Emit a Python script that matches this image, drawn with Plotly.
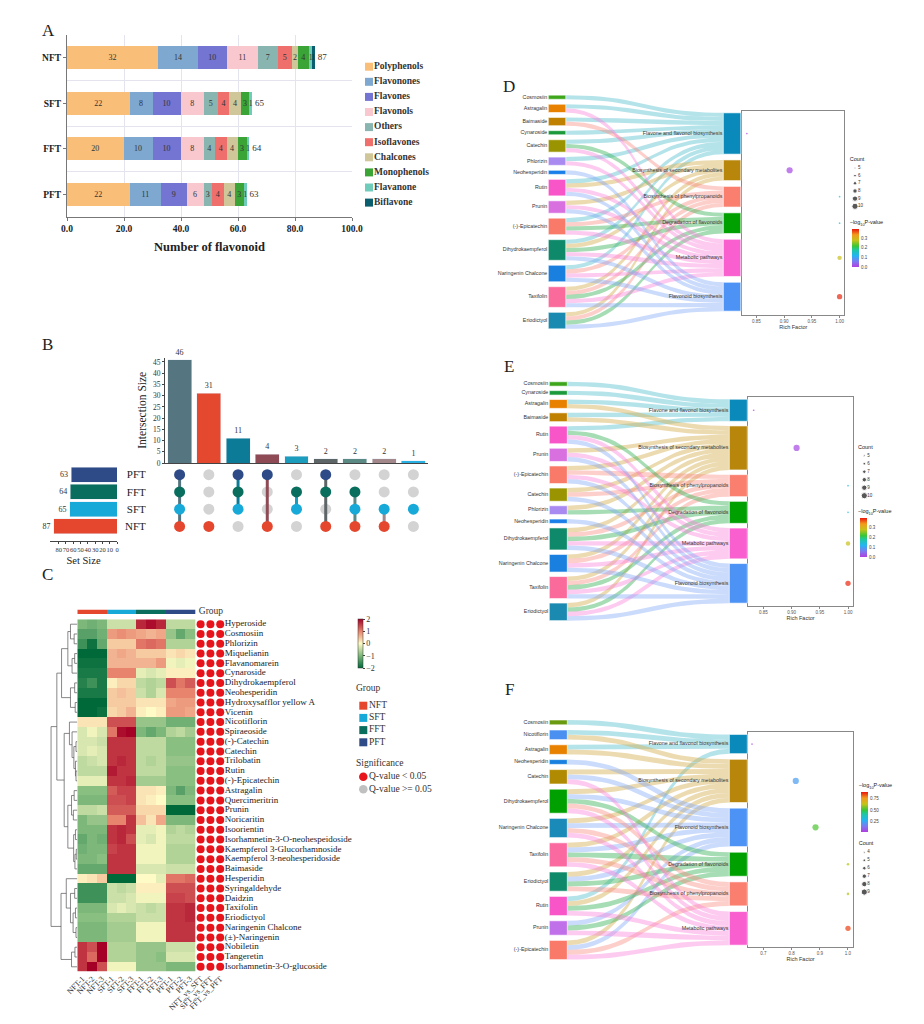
import plotly.graph_objects as go

W, H = 924, 1024
OFF = 8  # page body margin
FW, FH = W - 2 * OFF, H - 2 * OFF
SERIF = "Liberation Serif"
SANS = "Liberation Sans"

# ---------------- A: flavonoid classes per group ----------------
A_GROUPS = ["NFT", "SFT", "FFT", "PFT"]
A_CLASSES = ["Polyphenols", "Flavonones", "Flavones", "Flavonols", "Others",
             "Isoflavones", "Chalcones", "Monophenols", "Flavanone", "Biflavone"]
A_COLORS = ["#F9BE78", "#7EA8CF", "#7474D2", "#F8C8CE", "#89B5B1",
            "#EE6F6B", "#CFC69A", "#3AA437", "#70CCBA", "#0B5E6D"]
A_NFT = [32, 14, 10, 11, 7, 5, 2, 4, 1, 1]
A_SFT = [22, 8, 10, 8, 5, 4, 4, 3, 1, 0]
A_FFT = [20, 10, 10, 8, 4, 4, 4, 3, 1, 0]
A_PFT = [22, 11, 9, 6, 3, 4, 4, 3, 1, 0]

# ---------------- B: upset ----------------
SETS = ["NFT", "SFT", "FFT", "PFT"]
SET_SIZE = [87, 65, 64, 63]
SET_COLORS = ["#E4472E", "#17A9D8", "#0A6E5E", "#2E4A87"]
INTERSECTIONS = [["NFT", "SFT", "FFT", "PFT"], ["NFT"], ["SFT", "FFT", "PFT"],
                 ["NFT", "PFT"], ["SFT", "FFT"], ["NFT", "FFT", "PFT"],
                 ["NFT", "SFT", "FFT"], ["NFT", "SFT"], ["SFT"]]
INTER_SIZE = [46, 31, 11, 4, 3, 2, 2, 2, 1]
INTER_COLORS = ["#557680", "#E4482F", "#0B7B97", "#8E4A55", "#1C9DBE",
                "#5D6566", "#5B8A85", "#A2888A", "#29B0E2"]

# ---------------- C: heatmap ----------------
SAMPLES = ["NFT-1", "NFT-2", "NFT-3", "SFT-1", "SFT-2", "SFT-3",
           "FFT-1", "FFT-2", "FFT-3", "PFT-1", "PFT-2", "PFT-3"]
SAMPLE_GROUP = [0, 0, 0, 1, 1, 1, 2, 2, 2, 3, 3, 3]
COMPARISONS = ["NFT_vs_SFT", "SFT_vs_FFT", "FFT_vs_PFT"]
METABOLITES = ["Hyperoside", "Cosmosiin", "Phlorizin", "Miquelianin", "Flavanomarein",
               "Cynaroside", "Dihydrokaempferol", "Neohesperidin", "Hydroxysafflor yellow A",
               "Vicenin", "Nicotiflorin", "Spiraeoside", "(-)-Catechin", "Catechin",
               "Trilobatin", "Rutin", "(-)-Epicatechin", "Astragalin", "Quercimeritrin",
               "Prunin", "Noricaritin", "Isoorientin", "Isorhamnetin-3-O-neohespeidoside",
               "Kaempferol 3-Glucorhamnoside", "Kaempferol 3-neohesperidoside", "Baimaside",
               "Hesperidin", "Syringaldehyde", "Daidzin", "Taxifolin", "Eriodictyol",
               "Naringenin Chalcone", "(±)-Naringenin", "Nobiletin", "Tangeretin",
               "Isorhamnetin-3-O-glucoside"]
HEAT_Z = [
    [-1.0, -1.1, -1.0, -0.4, -0.4, -0.4, 1.7, 1.9, 1.7, -0.5, -0.5, -0.5],
    [-1.3, -1.3, -1.1, 0.8, 0.9, 0.8, 0.7, 0.6, 0.7, -0.8, -1.2, -0.9],
    [-1.5, -1.9, -1.2, 0.4, 0.4, 0.4, 1.1, 1.2, 1.1, -0.6, -0.6, -0.6],
    [-2.0, -2.0, -2.0, 0.6, 0.7, 0.6, 0.4, 0.4, 0.4, 0.2, 0.3, 0.2],
    [-1.9, -1.9, -1.9, 0.6, 0.6, 0.6, 0.6, 0.6, 0.8, -0.1, -0.2, -0.1],
    [-1.8, -1.8, -1.8, 1.0, 1.0, 1.0, -0.2, -0.3, -0.2, 0.1, 0.1, 0.1],
    [-1.7, -1.5, -1.8, 0.1, 0.3, 0.3, -0.5, -0.6, -0.5, 1.4, 1.1, 1.3],
    [-1.8, -1.8, -1.8, 0.4, 0.5, 0.4, -0.4, -0.6, -0.3, 1.0, 1.0, 1.0],
    [-2.1, -2.1, -2.1, 0.4, 0.4, 0.4, 0.2, 0.2, 0.2, 0.7, 0.8, 0.8],
    [-2.0, -2.0, -1.9, 0.3, 0.4, 0.6, 0.1, 0.0, 0.1, 0.8, 0.8, 0.7],
    [0.2, 0.2, 0.2, 1.4, 1.4, 1.4, -0.8, -0.8, -0.8, -1.1, -1.1, -1.1],
    [-0.3, -0.1, -0.3, 1.1, 1.9, 2.0, -1.0, -1.2, -1.0, -0.6, -0.5, -0.7],
    [-0.3, -0.3, -0.4, 1.6, 1.6, 1.6, -0.5, -0.5, -0.5, -0.9, -0.9, -0.9],
    [-0.3, -0.2, -0.3, 1.6, 1.6, 1.6, -0.5, -0.5, -0.5, -0.9, -0.9, -0.9],
    [-0.5, -0.4, -0.3, 1.6, 1.7, 1.6, -0.5, -0.6, -0.5, -0.8, -0.8, -0.8],
    [-0.5, -0.5, -0.5, 1.8, 1.6, 1.6, -0.5, -0.5, -0.5, -0.9, -0.9, -0.9],
    [-0.2, -0.2, -0.2, 1.6, 1.6, 1.7, -0.7, -0.7, -0.7, -0.9, -0.9, -0.9],
    [-0.9, -0.9, -0.9, 1.3, 1.5, 1.5, 0.2, 0.2, 0.1, -1.0, -1.3, -1.0],
    [-1.0, -1.0, -1.0, 1.4, 1.4, 1.5, 0.2, 0.1, 0.0, -0.9, -0.9, -0.9],
    [-0.5, -0.5, -0.4, 1.3, 1.3, 1.3, 0.3, 0.3, 0.3, -2.0, -2.0, -2.0],
    [-1.0, -0.8, -0.8, 1.0, 1.0, 1.6, 0.5, 0.2, 0.7, -1.0, -1.0, -1.0],
    [-1.0, -1.0, -1.0, 1.6, 1.7, 1.6, -0.2, -0.2, -0.1, -0.6, -0.5, -0.6],
    [-1.2, -1.0, -1.1, 1.6, 1.7, 1.4, -0.2, -0.3, -0.1, -0.5, -0.5, -0.5],
    [-1.1, -1.0, -1.0, 1.5, 1.6, 1.6, -0.1, -0.1, -0.1, -0.6, -0.6, -0.6],
    [-1.0, -1.0, -0.9, 1.6, 1.6, 1.6, -0.1, -0.1, -0.1, -0.6, -0.6, -0.6],
    [-1.2, -1.2, -1.2, 1.6, 1.6, 1.6, -0.3, -0.3, -0.3, -0.4, -0.4, -0.4],
    [0.1, 0.2, 0.4, -2.0, -2.0, -2.0, 0.0, 0.0, -0.2, 1.1, 1.1, 1.2],
    [-1.5, -1.5, -1.5, -0.4, -0.5, -0.4, 0.1, 0.1, 0.1, 1.4, 1.4, 1.4],
    [-1.5, -1.5, -1.5, -0.4, -0.4, -0.3, -0.1, -0.1, -0.1, 1.5, 1.5, 1.4],
    [-1.0, -1.0, -1.0, -0.3, -0.2, -0.3, -0.4, -0.5, -0.4, 1.6, 1.6, 1.7],
    [-0.9, -0.9, -0.9, -0.6, -0.6, -0.6, -0.4, -0.4, -0.4, 1.6, 1.6, 1.7],
    [-1.0, -1.0, -1.0, -0.7, -0.7, -0.7, -0.1, -0.1, -0.1, 1.6, 1.6, 1.6],
    [-1.0, -1.0, -1.0, -0.7, -0.7, -0.7, -0.1, -0.1, -0.1, 1.6, 1.6, 1.6],
    [1.6, 1.4, 2.1, -0.6, -0.6, -0.6, -0.8, -0.8, -0.8, -0.4, -0.4, -0.4],
    [1.6, 1.2, 2.1, -0.6, -0.6, -0.6, -0.8, -0.8, -0.9, -0.3, -0.3, -0.3],
    [1.6, 2.0, 1.4, -0.1, -0.1, -0.1, -0.8, -0.8, -0.8, -1.0, -1.0, -1.0],
]
Q_SIG = [[1, 1, 1]] * 36
# row dendrogram: [height, left, right], leaves are row indices
DENDRO = [10.0,
          [7.8,
           [6.0,
            [3.6, [2.6, 0, [1.2, 1, 2]], [2.0, [1.0, 3, 4], 5]],
            [2.6, [1.0, 6, 7], [0.8, 8, 9]]],
           [5.0,
            [3.0, 10, [2.0, 11, [1.3, [0.5, 12, 13], [0.7, 14, [0.5, 15, 16]]]]],
            [3.6, [2.2, [1.2, 17, 18], [1.5, 19, 20]],
             [1.4, [0.7, 21, 22], [0.9, [0.4, 23, 24], 25]]]]],
          [6.2,
           [4.2, 26, [2.6, [1.0, 27, 28], [1.6, [0.7, 29, 30], [0.5, 31, 32]]]],
           [2.2, [0.9, 33, 34], 35]]]
HEAT_SCALE = [[0, "#00693A"], [0.25, "#7DB87A"], [0.5, "#FFFBC6"],
              [0.75, "#E8836D"], [1, "#A50026"]]

# ---------------- D / E / F: pathway sankey + enrichment ----------------
PATH_COLOR = {"Flavone and flavonol biosynthesis": "#0A8ABA",
              "Biosynthesis of secondary metabolites": "#B8860B",
              "Biosynthesis of phenylpropanoids": "#FA7F6F",
              "Degradation of flavonoids": "#00A000",
              "Metabolic pathways": "#F95FCF",
              "Flavonoid biosynthesis": "#4C93F5"}
PATH_LINK = {"Flavone and flavonol biosynthesis": "rgba(90,192,208,0.45)",
             "Biosynthesis of secondary metabolites": "rgba(212,176,80,0.45)",
             "Biosynthesis of phenylpropanoids": "rgba(250,135,125,0.4)",
             "Degradation of flavonoids": "rgba(60,180,90,0.45)",
             "Metabolic pathways": "rgba(250,125,218,0.4)",
             "Flavonoid biosynthesis": "rgba(125,165,245,0.4)"}
RAINBOW = [[0, "#B03FE0"], [0.15, "#7A7CF0"], [0.3, "#22B6F2"], [0.45, "#1FC7A0"],
           [0.55, "#39C636"], [0.7, "#C6C21A"], [0.85, "#F39A1E"], [1, "#E8160C"]]

D_METABS = ["Cosmosiin", "Astragalin", "Baimaside", "Cynaroside", "Catechin", "Phlorizin",
            "Neohesperidin", "Rutin", "Prunin", "(-)-Epicatechin", "Dihydrokaempferol",
            "Naringenin Chalcone", "Taxifolin", "Eriodictyol"]
D_MCOLORS = ["#3DA61A", "#E88000", "#C08000", "#1A9A3A", "#9A9400", "#A98AF0", "#1A7FE8",
             "#F855C8", "#D870E0", "#FA7A6A", "#0E8A6A", "#1A80E0", "#FA6A9A", "#1A8AB0"]
D_PATHS = ["Flavone and flavonol biosynthesis", "Biosynthesis of secondary metabolites",
           "Biosynthesis of phenylpropanoids", "Degradation of flavonoids",
           "Metabolic pathways", "Flavonoid biosynthesis"]
D_LINKS = [[0], [0, 4], [0, 2], [0], [0, 3, 4], [0, 4], [5], [0, 1, 4, 5], [1, 4, 5],
           [0, 2, 3, 4], [0, 1, 3, 4, 5], [0, 2, 4, 5], [1, 2, 3, 4, 5], [1, 2, 3, 5]]
D_RICH = [0.833, 0.910, 1.0, 1.0, 1.0, 1.0]
D_COUNT = [5, 10, 5, 5, 8, 9]
D_LOGP = [0.0, 0.01, 0.14, 0.14, 0.28, 0.39]
D_COUNT_LEGEND = [5, 6, 7, 8, 9, 10]

E_METABS = ["Cosmosiin", "Cynaroside", "Astragalin", "Baimaside", "Rutin", "Prunin",
            "(-)-Epicatechin", "Catechin", "Phlorizin", "Neohesperidin", "Dihydrokaempferol",
            "Naringenin Chalcone", "Taxifolin", "Eriodictyol"]
E_MCOLORS = ["#3DA61A", "#1A9A3A", "#E88000", "#C08000", "#F855C8", "#D870E0", "#FA7A6A",
             "#9A9400", "#A98AF0", "#1A7FE8", "#0E8A6A", "#1A80E0", "#FA6A9A", "#1A8AB0"]
E_PATHS = D_PATHS
E_LINKS = [[0], [0], [0, 1], [0, 1], [0, 3, 4, 5], [1, 4, 5], [1, 2, 4, 5], [1, 2, 5],
           [1, 3], [5], [1, 2, 3, 4, 5], [1, 2, 4, 5], [1, 2, 3, 4, 5], [1, 3, 4, 5]]
E_RICH = [0.833, 0.909, 1.0, 1.0, 1.0, 1.0]
E_COUNT = [5, 10, 5, 5, 8, 9]
E_LOGP = [0.0, 0.01, 0.14, 0.14, 0.28, 0.39]
E_COUNT_LEGEND = [5, 6, 7, 8, 9, 10]

F_METABS = ["Cosmosiin", "Nicotiflorin", "Astragalin", "Neohesperidin", "Catechin",
            "Dihydrokaempferol", "Naringenin Chalcone", "Taxifolin", "Eriodictyol", "Rutin",
            "Prunin", "(-)-Epicatechin"]
F_MCOLORS = ["#6A9A10", "#4A90F0", "#E88000", "#1A80E0", "#B08A00", "#00A000", "#1A8AB8",
             "#FA6AA0", "#0E8A6A", "#F855C8", "#C070E8", "#FA7A6A"]
F_PATHS = ["Flavone and flavonol biosynthesis", "Biosynthesis of secondary metabolites",
           "Flavonoid biosynthesis", "Degradation of flavonoids",
           "Biosynthesis of phenylpropanoids", "Metabolic pathways"]
F_LINKS = [[0], [0, 1], [0, 1], [2], [1, 2, 5], [1, 2, 3, 4, 5], [1, 2, 4, 5],
           [1, 2, 3, 4, 5], [1, 2, 3, 4], [0, 1, 3, 5], [2, 3, 5], [1, 2, 4, 5]]
F_RICH = [0.66, 0.815, 0.885, 1.0, 1.0, 1.0]
F_COUNT = [4, 9, 9, 5, 5, 8]
F_LOGP = [0.03, 0.22, 0.52, 0.62, 0.62, 0.86]
F_COUNT_LEGEND = [4, 5, 6, 7, 8, 9]


# page pixel -> paper fraction (figure sits inside the page's 8px body margin)
def px(x):
    return (x - OFF) / FW


def py(y):
    return 1 - (y - OFF) / FH


fig = go.Figure()


def add_text(x, y, text, size, pos="middle right", family=SANS, color="#222",
             weight="normal", xa="x10", ya="y10"):
    fig.add_trace(go.Scatter(x=x, y=y, text=text, mode="text", textposition=pos,
                             textfont=dict(family=family, size=size, color=color, weight=weight),
                             xaxis=xa, yaxis=ya, hoverinfo="skip", cliponaxis=False))


# ===== A =====
a_rows = [A_NFT, A_SFT, A_FFT, A_PFT]
a_y = [len(A_GROUPS) - 1 - i for i in range(len(A_GROUPS))]
for ci, cls in enumerate(A_CLASSES):
    pairs = [(row[ci], yy) for row, yy in zip(a_rows, a_y) if row[ci] > 0]
    vals = [v for v, _ in pairs]
    fig.add_trace(go.Bar(x=vals, y=[yy for _, yy in pairs], orientation="h", width=0.5,
                         marker=dict(color=A_COLORS[ci], line=dict(width=0)),
                         text=[str(v) for v in vals], textposition="inside",
                         insidetextanchor="middle", textangle=0,
                         textfont=dict(family=SERIF, size=9, color="#333"),
                         xaxis="x", yaxis="y", hoverinfo="skip"))
a_tot = [sum(r) for r in a_rows]
add_text([t + 1 for t in a_tot], a_y, [str(t) for t in a_tot], 9, family=SERIF, color="#333",
         xa="x", ya="y")

leg_y = [66.7 + 15.1 * i for i in range(len(A_CLASSES))]
fig.add_trace(go.Scatter(x=[369] * len(A_CLASSES), y=leg_y, mode="markers",
                         marker=dict(symbol="square", size=8, color=A_COLORS),
                         xaxis="x10", yaxis="y10", hoverinfo="skip"))
add_text([374] * len(A_CLASSES), leg_y, A_CLASSES, 9.5, family=SERIF, weight="bold", color="#333")

# ===== B =====
cols = list(range(len(INTER_SIZE)))
fig.add_trace(go.Bar(x=cols, y=INTER_SIZE, width=0.82, marker=dict(color=INTER_COLORS),
                     text=[str(v) for v in INTER_SIZE], textposition="outside",
                     textfont=dict(family=SERIF, size=8, color="#333"), cliponaxis=False,
                     xaxis="x2", yaxis="y2", hoverinfo="skip"))
gx, gy = [], []
for c, members in enumerate(INTERSECTIONS):
    for r, s in enumerate(SETS):
        if s not in members:
            gx.append(c)
            gy.append(r)
fig.add_trace(go.Scatter(x=gx, y=gy, mode="markers", marker=dict(size=11, color="#D3D3D3"),
                         xaxis="x2", yaxis="y3", hoverinfo="skip"))
mx, my, mc = [], [], []
for c, members in enumerate(INTERSECTIONS):
    rows = [SETS.index(s) for s in members]
    if len(rows) > 1:
        fig.add_trace(go.Scatter(x=[c, c], y=[min(rows), max(rows)], mode="lines",
                                 line=dict(color=INTER_COLORS[c], width=3),
                                 xaxis="x2", yaxis="y3", hoverinfo="skip"))
    for r in rows:
        mx.append(c)
        my.append(r)
        mc.append(SET_COLORS[r])
fig.add_trace(go.Scatter(x=mx, y=my, mode="markers", marker=dict(size=11, color=mc),
                         xaxis="x2", yaxis="y3", hoverinfo="skip"))
fig.add_trace(go.Bar(x=SET_SIZE, y=list(range(len(SETS))), orientation="h", width=0.87,
                     marker=dict(color=SET_COLORS), text=[str(v) for v in SET_SIZE],
                     textposition="outside", textfont=dict(family=SERIF, size=7.5, color="#333"),
                     cliponaxis=False, xaxis="x3", yaxis="y3", hoverinfo="skip"))

# ===== C =====
fig.add_trace(go.Heatmap(z=HEAT_Z, x=list(range(len(SAMPLES))), y=list(range(len(METABOLITES))),
                         zmin=-2, zmax=2, colorscale=HEAT_SCALE, xaxis="x4", yaxis="y4",
                         hoverinfo="skip",
                         colorbar=dict(x=px(358.3), xanchor="left", y=py(619), yanchor="top",
                                       len=49, lenmode="pixels", thickness=5, xpad=0, ypad=0,
                                       outlinewidth=0.5, outlinecolor="#333",
                                       tickvals=[2, 1, 0, -1, -2],
                                       ticktext=["2", "1", "0", "\u22121", "\u22122"],
                                       ticks="outside", ticklen=2,
                                       tickfont=dict(family=SERIF, size=8, color="#333"))))
g_scale = []
for i, c in enumerate(SET_COLORS):
    g_scale += [[i / len(SET_COLORS), c], [(i + 1) / len(SET_COLORS), c]]
fig.add_trace(go.Heatmap(z=[SAMPLE_GROUP], x=list(range(len(SAMPLES))), y=[0], zmin=-0.5,
                         zmax=len(SET_COLORS) - 0.5, colorscale=g_scale, showscale=False,
                         xaxis="x4", yaxis="y5", hoverinfo="skip"))
add_text([len(SAMPLES) - 0.1], [0], ["Group"], 9.5, family=SERIF, color="#333", xa="x4", ya="y5")

sig_x = [len(SAMPLES) + j + 0.08 for j in range(len(COMPARISONS))]
sx, sy, scol = [], [], []
for r, flags in enumerate(Q_SIG):
    for j, f in enumerate(flags):
        sx.append(sig_x[j])
        sy.append(r)
        scol.append("#E8141C" if f else "#C0C0C0")
fig.add_trace(go.Scatter(x=sx, y=sy, mode="markers", marker=dict(size=8, color=scol),
                         xaxis="x4", yaxis="y4", hoverinfo="skip", cliponaxis=False))
add_text([len(SAMPLES) + len(COMPARISONS) - 0.45] * len(METABOLITES), list(range(len(METABOLITES))),
         METABOLITES, 9, family=SERIF, color="#222", xa="x4", ya="y4")


def dendro(node, xs, ys):
    if isinstance(node, int):
        return node, 0.0
    h, left, right = node
    yl, hl = dendro(left, xs, ys)
    yr, hr = dendro(right, xs, ys)
    xs += [hl, h, h, hr, None]
    ys += [yl, yl, yr, yr, None]
    return (yl + yr) / 2, h


dx, dy = [], []
dendro(DENDRO, dx, dy)
fig.add_trace(go.Scatter(x=dx, y=dy, mode="lines", line=dict(color="#555", width=0.7),
                         xaxis="x5", yaxis="y4", hoverinfo="skip"))

# C legends
add_text([356], [689], ["Group"], 9.5, family=SERIF, color="#333")
grp_y = [705.7 + 12.2 * i for i in range(len(SETS))]
fig.add_trace(go.Scatter(x=[363.3] * len(SETS), y=grp_y, mode="markers",
                         marker=dict(symbol="square", size=8, color=SET_COLORS),
                         xaxis="x10", yaxis="y10", hoverinfo="skip"))
add_text([369] * len(SETS), grp_y, SETS, 9.5, family=SERIF, color="#333")
add_text([356], [764], ["Significance"], 9.5, family=SERIF, color="#333")
fig.add_trace(go.Scatter(x=[363.3, 363.3], y=[776.7, 789.3], mode="markers",
                         marker=dict(size=8.5, color=["#E8141C", "#C0C0C0"]),
                         xaxis="x10", yaxis="y10", hoverinfo="skip"))
add_text([369, 369], [776.7, 789.3], ["Q-value < 0.05", "Q-value >= 0.05"], 9.5,
         family=SERIF, color="#333")

# ===== D / E / F =====
GEO = {
    "D": dict(lx=548.3, rx=723.3, w=17.5, mid=212.0, k=4.13, gl=4.95, gr=5.8, xa="x7", ya="y7",
              cb_x=851.7, cb_top=229.0, cb_len=37.7, cnt_title=159.3, cnt_x=855.0, cnt_y0=168.0,
              cnt_dy=7.66, pmin=0.0, pmax=0.397, pticks=[0, 0.1, 0.2, 0.3], pfmt=".1f"),
    "E": dict(lx=549.3, rx=729.3, w=18, mid=501.2, k=4.4, gl=4.5, gr=4.7, xa="x8", ya="y8",
              cb_x=860.0, cb_top=518.0, cb_len=39.3, cnt_title=447.3, cnt_x=864.3, cnt_y0=455.7,
              cnt_dy=8.0, pmin=0.0, pmax=0.397, pticks=[0, 0.1, 0.2, 0.3], pfmt=".1f"),
    "F": dict(lx=549.3, rx=729.3, w=18, mid=839.8, k=4.8, gl=5.2, gr=5.66, xa="x9", ya="y9",
              cb_x=860.7, cb_top=792.0, cb_len=39.7, cnt_title=844.0, cnt_x=864.3, cnt_y0=852.3,
              cnt_dy=7.95, pmin=0.01, pmax=0.9, pticks=[0.25, 0.5, 0.75], pfmt=".2f"),
}


def rect(x0, y0, w, h):
    return [x0, x0 + w, x0 + w, x0, x0], [y0, y0, y0 + h, y0 + h, y0]


def panel(metabs, mcolors, paths, links, rich, count, logp, legend_counts, g):
    k = g["k"]
    nl = [len(l) for l in links]
    nr = [sum(p in l for l in links) for p in range(len(paths))]

    def tops(counts, gap):
        y = g["mid"] - (sum(counts) * k + gap * (len(counts) - 1)) / 2
        out = []
        for c in counts:
            out.append(y)
            y += c * k + gap
        return out

    lt, rt = tops(nl, g["gl"]), tops(nr, g["gr"])
    lcur, rcur = list(lt), list(rt)
    rib = [([], []) for _ in paths]
    x0, x1 = g["lx"] + g["w"], g["rx"]
    ts = [i / 24 for i in range(25)]
    bx = [x0 + (x1 - x0) * (1.5 * t * (1 - t) + t ** 3) for t in ts]
    bs = [3 * t * t - 2 * t ** 3 for t in ts]
    for i, l in enumerate(links):
        for p in sorted(l):
            y0, y1 = lcur[i], rcur[p]
            lcur[i] += k
            rcur[p] += k
            top = [y0 + (y1 - y0) * v for v in bs]
            rib[p][0].extend(bx + bx[::-1] + [bx[0], None])
            rib[p][1].extend(top + [y + k for y in top[::-1]] + [top[0], None])
    for p, name in enumerate(paths):
        fig.add_trace(go.Scatter(x=rib[p][0], y=rib[p][1], mode="lines", fill="toself",
                                 fillcolor=PATH_LINK[name], line=dict(width=0, color="rgba(0,0,0,0)"),
                                 xaxis="x10", yaxis="y10", hoverinfo="skip"))
    for i, name in enumerate(metabs):
        rx_, ry_ = rect(g["lx"], lt[i], g["w"], nl[i] * k)
        fig.add_trace(go.Scatter(x=rx_, y=ry_, mode="lines", fill="toself", fillcolor=mcolors[i],
                                 line=dict(width=0.6, color="white"),
                                 xaxis="x10", yaxis="y10", hoverinfo="skip"))
    centers = []
    for p, name in enumerate(paths):
        rx_, ry_ = rect(g["rx"], rt[p], g["w"], nr[p] * k)
        centers.append(rt[p] + nr[p] * k / 2)
        fig.add_trace(go.Scatter(x=rx_, y=ry_, mode="lines", fill="toself",
                                 fillcolor=PATH_COLOR[name], line=dict(width=0.6, color="white"),
                                 xaxis="x10", yaxis="y10", hoverinfo="skip"))
    add_text([g["lx"] - 1] * len(metabs), [lt[i] + nl[i] * k / 2 for i in range(len(metabs))],
             metabs, 5.3, pos="middle left", color="#333")
    add_text([g["rx"] - 1] * len(paths), centers, paths, 5.3, pos="middle left", color="#333")

    c0 = legend_counts[0]

    def size(c):
        return 1.7 + (c - c0) * 0.9

    fig.add_trace(go.Scatter(
        x=rich, y=centers, mode="markers", xaxis=g["xa"], yaxis=g["ya"], hoverinfo="skip",
        marker=dict(size=[size(c) for c in count], color=logp, cmin=g["pmin"], cmax=g["pmax"],
                    colorscale=RAINBOW, line=dict(width=0),
                    colorbar=dict(x=px(g["cb_x"]), xanchor="left", y=py(g["cb_top"]),
                                  yanchor="top", len=g["cb_len"], lenmode="pixels",
                                  thickness=6.5, xpad=0, ypad=0, outlinewidth=0,
                                  tickvals=g["pticks"], tickformat=g["pfmt"], ticks="outside",
                                  ticklen=1.5, tickcolor="#fff",
                                  tickfont=dict(family=SANS, size=4.5, color="#444")))))
    add_text([g["cb_x"] - 2], [g["cb_top"] - 6], ["\u2212log<sub>10</sub>P-value"], 5.5,
             color="#222")
    add_text([g["cb_x"] - 2], [g["cnt_title"]], ["Count"], 5.5, color="#222")
    ly = [g["cnt_y0"] + g["cnt_dy"] * i for i in range(len(legend_counts))]
    fig.add_trace(go.Scatter(x=[g["cnt_x"]] * len(ly), y=ly, mode="markers",
                             marker=dict(size=[size(c) for c in legend_counts], color="#111"),
                             xaxis="x10", yaxis="y10", hoverinfo="skip"))
    add_text([g["cnt_x"] + 3] * len(ly), ly, [str(c) for c in legend_counts], 4.5, color="#333")


panel(D_METABS, D_MCOLORS, D_PATHS, D_LINKS, D_RICH, D_COUNT, D_LOGP, D_COUNT_LEGEND, GEO["D"])
panel(E_METABS, E_MCOLORS, E_PATHS, E_LINKS, E_RICH, E_COUNT, E_LOGP, E_COUNT_LEGEND, GEO["E"])
panel(F_METABS, F_MCOLORS, F_PATHS, F_LINKS, F_RICH, F_COUNT, F_LOGP, F_COUNT_LEGEND, GEO["F"])

# ===== layout =====
grid = "#E4E4EE"
serif_tick = dict(family=SERIF, size=9.5, color="#222", weight="bold")


def bubble_axes(x0, x1, y0, y1, rng, ticks, fmt, n):
    return {
        f"xaxis{n}": dict(domain=[px(x0), px(x1)], range=rng, anchor=f"y{n}", tickvals=ticks,
                          tickformat=fmt, showline=True, mirror=True, linecolor="#888",
                          linewidth=1, ticks="outside", ticklen=2, tickcolor="#888",
                          showgrid=False, zeroline=False, automargin=False,
                          tickfont=dict(family=SANS, size=4.5, color="#555"),
                          title=dict(text="Rich Factor", font=dict(family=SANS, size=5.5,
                                                                   color="#333"), standoff=1)),
        f"yaxis{n}": dict(domain=[py(y1), py(y0)], range=[y1, y0], anchor=f"x{n}",
                          showline=True, mirror=True, linecolor="#888", linewidth=1,
                          automargin=False,
                          showticklabels=False, ticks="", showgrid=False, zeroline=False),
    }


layout = dict(
    width=FW, height=FH, autosize=False, margin=dict(l=0, r=0, t=0, b=0, autoexpand=False),
    paper_bgcolor="white", plot_bgcolor="rgba(0,0,0,0)", showlegend=False,
    barmode="stack", hovermode=False, uniformtext=dict(minsize=8, mode="show"),
    xaxis=dict(domain=[px(67), px(352)], range=[0, 100], anchor="y", automargin=False,
               tickvals=[0, 20, 40, 60, 80, 100], tickformat=".1f", tickfont=serif_tick,
               showgrid=True, gridcolor=grid, showline=True, linecolor="#777", ticks="outside",
               ticklen=3, tickcolor="#777", zeroline=False,
               title=dict(text="Number of flavonoid", standoff=8,
                          font=dict(family=SERIF, size=12.5, color="#222", weight="bold"))),
    yaxis=dict(domain=[py(217), py(35)], range=[-0.5, len(A_GROUPS) - 0.5], anchor="x",
               automargin=False,
               tickvals=a_y, ticktext=A_GROUPS, tickfont=serif_tick, showgrid=False,
               minor=dict(tickvals=[i + 0.5 for i in range(len(A_GROUPS) - 1)], showgrid=True,
                          gridcolor=grid, ticks=""),
               showline=True, linecolor="#777", ticks="outside", ticklen=3, tickcolor="#777",
               zeroline=False),
    xaxis2=dict(domain=[px(165), px(428)], range=[-0.5, len(INTER_SIZE) - 0.5], anchor="y2",
                automargin=False,
                showticklabels=False, showline=True, linecolor="#444", ticks="",
                showgrid=False, zeroline=False),
    yaxis2=dict(domain=[py(463), py(357.5)], range=[0, 47], anchor="x2", automargin=False,
                tickvals=list(range(0, 50, 5)), tickfont=dict(family=SERIF, size=7.5, color="#333"),
                ticks="outside", ticklen=2, showline=True, linecolor="#444", showgrid=False,
                zeroline=False,
                title=dict(text="Intersection Size", standoff=3,
                           font=dict(family=SERIF, size=11.5, color="#222"))),
    yaxis3=dict(domain=[py(535), py(466)], range=[-0.5, len(SETS) - 0.5], anchor="x2",
                automargin=False,
                tickvals=list(range(len(SETS))), ticktext=SETS,
                tickfont=dict(family=SERIF, size=11, color="#222"), ticks="outside",
                ticklen=16, tickcolor="rgba(0,0,0,0)", showgrid=False, zeroline=False),
    xaxis3=dict(domain=[px(50), px(117)], range=[91.9, 0], anchor="free", position=py(541),
                automargin=False, tickangle=0,
                tickvals=list(range(0, 90, 10)), tickfont=dict(family=SERIF, size=6.5, color="#333"),
                showline=True, linecolor="#444", ticks="outside", ticklen=2, showgrid=False,
                zeroline=False,
                title=dict(text="Set Size", standoff=4,
                           font=dict(family=SERIF, size=10.5, color="#222"))),
    xaxis4=dict(domain=[px(77.3), px(225.3)], range=[-0.5, 14.6], anchor="y4", automargin=False,
                tickvals=list(range(len(SAMPLES))) + sig_x, ticktext=SAMPLES + COMPARISONS,
                tickangle=-45, tickfont=dict(family=SERIF, size=8, color="#333"), ticks="",
                showgrid=False, zeroline=False, showline=False),
    yaxis4=dict(domain=[py(971.7), py(619.3)], range=[len(METABOLITES) - 0.5, -0.5], anchor="x4",
                automargin=False,
                showticklabels=False, showgrid=False, zeroline=False, ticks=""),
    yaxis5=dict(domain=[py(614), py(609.5)], range=[-0.5, 0.5], anchor="x4", visible=False,
                automargin=False),
    xaxis5=dict(domain=[px(50), px(77.3)], range=[10.4, 0], anchor="y4", visible=False,
                automargin=False),
    xaxis10=dict(domain=[0, 1], range=[OFF, OFF + FW], anchor="y10", visible=False,
                 automargin=False),
    yaxis10=dict(domain=[0, 1], range=[OFF + FH, OFF], anchor="x10", visible=False,
                 automargin=False),
    annotations=[dict(text=t, x=px(x), y=py(y), xref="paper", yref="paper", showarrow=False,
                      font=dict(family=SERIF, size=17, color="#222"))
                 for t, x, y in [("A", 40, 19), ("B", 40, 345), ("C", 40, 574),
                                 ("D", 509, 75), ("E", 509, 366), ("F", 509, 701)]],
)
layout.update(bubble_axes(742.3, 844.3, 110.7, 315.0, [0.8248, 1.0085],
                          [0.85, 0.9, 0.95, 1.0], ".2f", 7))
layout.update(bubble_axes(748.3, 852.7, 397.3, 605.7, [0.8235, 1.0083],
                          [0.85, 0.9, 0.95, 1.0], ".2f", 8))
layout.update(bubble_axes(748.3, 852.7, 732.3, 947.0, [0.6468, 1.0167],
                          [0.7, 0.8, 0.9, 1.0], ".1f", 9))
fig.update_layout(**layout)

fig.write_html("out.html")
